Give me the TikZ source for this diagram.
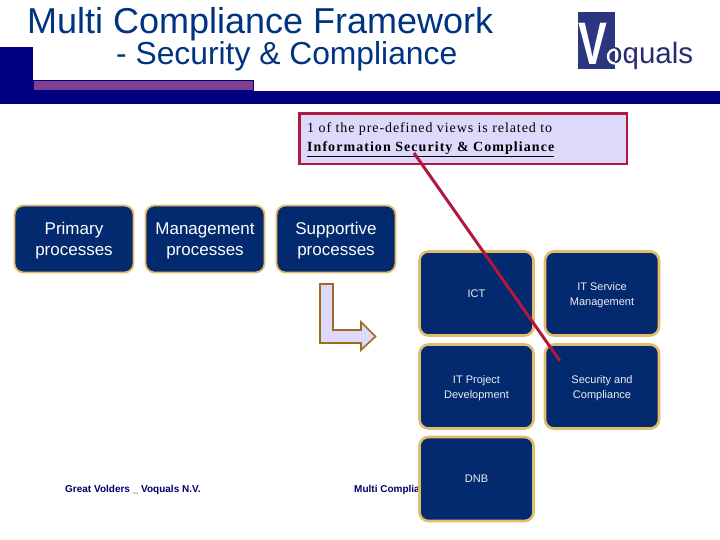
\documentclass[tikz,border=0pt]{standalone}
\usepackage{fontspec}
\setmainfont{Liberation Sans}
\newfontfamily\callfont[LetterSpace=6.5]{Liberation Serif}
\newfontfamily\callbold[LetterSpace=7.5]{Liberation Serif}
\definecolor{titleblue}{HTML}{003380}
\definecolor{barnavy}{HTML}{000080}
\definecolor{barpurple}{HTML}{804090}
\definecolor{boxnavy}{HTML}{032A6E}
\definecolor{boxgold}{HTML}{E2BC6C}
\definecolor{callred}{HTML}{B01840}
\definecolor{calllilac}{HTML}{DDD9FA}
\definecolor{arrowbrown}{HTML}{A06A20}
\definecolor{logoblue}{HTML}{2B3580}
\tikzset{
  titletext/.style={anchor=base west,inner sep=0pt,text=titleblue},
  procbox/.style={draw=boxgold,line width=1.8pt,fill=boxnavy,rounded corners=9pt,minimum width=119pt,minimum height=67pt,align=center,text=white,font=\fontsize{17}{21}\selectfont,text height=37.5pt},
  domainbox/.style={draw=boxgold,line width=2.6pt,fill=boxnavy,rounded corners=9pt,minimum width=114pt,minimum height=84pt,align=center,text=white!92!boxnavy,font=\fontsize{11}{15}\selectfont},
  twoline/.style={text height=25.5pt},
  foottext/.style={anchor=base west,inner sep=0pt,text=barnavy!80!black,font=\fontsize{10}{10}\selectfont\bfseries},
  calltext/.style={anchor=base west,inner sep=0pt,font=\fontsize{14}{16}\selectfont\callfont},
  logotext/.style={anchor=base west,inner sep=0pt,font=\fontsize{29.5}{30}\selectfont},
}
\begin{document}
\begin{tikzpicture}[x=1pt,y=-1pt]
\useasboundingbox (0,0) rectangle (720,540);

\node[titletext,font=\fontsize{36}{38}\selectfont] (title) at (27,34) {Multi Compliance Framework};
\node[titletext,font=\fontsize{31.8}{34}\selectfont] (subtitle) at (116,65) {- Security \& Compliance};

\fill[barnavy] (0,91) rectangle (720,104);
\fill[barnavy] (0,47) rectangle (33,104);
\draw[barnavy,line width=1pt,fill=barpurple] (33.5,80.5) rectangle (253,90.5);

\fill[logoblue] (578,12) rectangle (615,69);
\node[anchor=base,inner sep=0pt,text=white,xscale=0.72,font=\fontsize{60}{60}\selectfont\bfseries] (logov) at (593,65) {V};
\node[logotext,text=logoblue!85!black] (logoname) at (606,64) {oquals};
\begin{scope}
\clip (578,12) rectangle (615,69);
\draw[white,line width=2.4pt] (614.8,56.5) ellipse (6.8 and 7);
\end{scope}
\fill[barpurple] (630,56.5) circle (1.6);

\node[foottext] (footleft) at (65,492) {Great Volders \_ Voquals N.V.};
\node[foottext] (footright) at (354,492) {Multi Complia};

\node[procbox] (primary) at (74,239) {Primary\\processes};
\node[procbox] (management) at (205,239) {Management\\processes};
\node[procbox] (supportive) at (336,239) {Supportive\\processes};

\draw[arrowbrown,line width=1.6pt,fill=calllilac] (320,284) -- (333,284) -- (333,330) -- (361,330) -- (361,322) -- (375.5,336.5) -- (361,350) -- (361,343) -- (320,343) -- cycle;

\node[domainbox] (ict) at (476.5,293.5) {ICT};
\node[domainbox,twoline] (itservice) at (602,293.5) {IT Service\\Management};
\node[domainbox,twoline] (itproject) at (476.5,386.5) {IT Project\\Development};
\node[domainbox,twoline] (security) at (602,386.5) {Security and\\Compliance};
\node[domainbox] (dnb) at (476.5,479) {DNB};

\draw[callred,line width=2.6pt,fill=calllilac] (299.5,113.5) rectangle (627,164);
\node[calltext] (callone) at (307,133) {1 of the pre-defined views is related to};
\node[calltext] (calltwo) at (307,152) {\callbold\bfseries\underline{Information Security \& Compliance}};

\coordinate (linestart) at (414,153);
\coordinate (lineend) at (560,361);
\draw[callred,line width=3pt] (linestart) -- (lineend);
\end{tikzpicture}
\end{document}
